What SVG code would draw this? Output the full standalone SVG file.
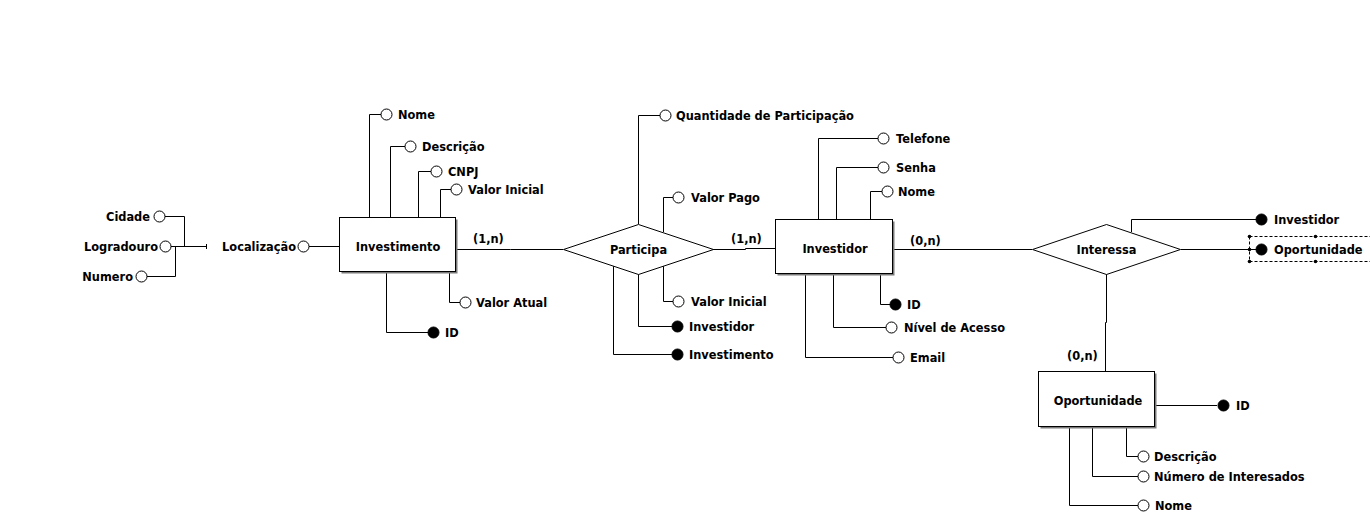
<svg xmlns="http://www.w3.org/2000/svg" width="1370" height="517" viewBox="0 0 1370 517">
<style>
.ln{stroke:#000;stroke-width:1;fill:none}
.att{fill:#fff;stroke:#000;stroke-width:1}
.key{fill:#000;stroke:#000;stroke-width:1}
.ent{fill:#fff;stroke:#000;stroke-width:1}
.sh{fill:#7a7a7a}
.rel{fill:#fff;stroke:#000;stroke-width:1}
.sel{stroke:#000;stroke-width:1;stroke-dasharray:3,2;fill:none}
text{font-family:"DejaVu Sans","Liberation Sans",sans-serif;font-weight:bold;font-size:11.4px;fill:#000}
.c{text-anchor:middle}
.r{text-anchor:end}
</style>
<rect width="1370" height="517" fill="#fff"/>
<g id="connectors">
<!-- Investimento attributes -->
<polyline class="ln" points="369.5,217 369.5,114.5 381,114.5"/>
<polyline class="ln" points="390.5,217 390.5,146.5 405,146.5"/>
<polyline class="ln" points="418.5,217 418.5,171.5 431,171.5"/>
<polyline class="ln" points="440.5,217 440.5,189.5 451,189.5"/>
<polyline class="ln" points="449.5,272 449.5,302.5 460,302.5"/>
<polyline class="ln" points="386.5,272 386.5,332.5 428,332.5"/>
<line class="ln" x1="309" y1="246.5" x2="339" y2="246.5"/>
<!-- Localizacao composite -->
<polyline class="ln" points="164,216.5 184.5,216.5 184.5,246.5"/>
<line class="ln" x1="165" y1="246.5" x2="207" y2="246.5"/>
<polyline class="ln" points="146,276.5 175.5,276.5 175.5,246.5"/>
<line class="ln" x1="206.5" y1="244" x2="206.5" y2="249"/>
<!-- Relationship lines -->
<polyline class="ln" points="456,249.5 510.5,249.5 510.5,249.5 563,249.5"/>
<polyline class="ln" points="713,249.5 745.5,249.5 745.5,248.5 775,248.5"/>
<line class="ln" x1="894" y1="249.5" x2="1032" y2="249.5"/>
<polyline class="ln" points="1106.5,274 1106.5,322.5 1105.5,322.5 1105.5,371"/>
<line class="ln" x1="1181" y1="249.5" x2="1256" y2="249.5"/>
<!-- Participa attributes -->
<polyline class="ln" points="638.5,224 638.5,115.5 660,115.5"/>
<polyline class="ln" points="663.5,232 663.5,197.5 673,197.5"/>
<polyline class="ln" points="663.5,266 663.5,301.5 673,301.5"/>
<polyline class="ln" points="638.5,274 638.5,326.5 672,326.5"/>
<polyline class="ln" points="613.5,266 613.5,354.5 672,354.5"/>
<!-- Investidor attributes -->
<polyline class="ln" points="818.5,219 818.5,138.5 878,138.5"/>
<polyline class="ln" points="836.5,219 836.5,167.5 878,167.5"/>
<polyline class="ln" points="870.5,219 870.5,191.5 882,191.5"/>
<polyline class="ln" points="880.5,274 880.5,304.5 890,304.5"/>
<polyline class="ln" points="833.5,274 833.5,327.5 886,327.5"/>
<polyline class="ln" points="805.5,274 805.5,357.5 893,357.5"/>
<!-- Interessa attributes -->
<polyline class="ln" points="1131.5,232 1131.5,219.5 1256,219.5"/>
<!-- Oportunidade attributes -->
<line class="ln" x1="1156" y1="405.5" x2="1217" y2="405.5"/>
<polyline class="ln" points="1126.5,427 1126.5,456.5 1138,456.5"/>
<polyline class="ln" points="1092.5,427 1092.5,476.5 1138,476.5"/>
<polyline class="ln" points="1069.5,427 1069.5,505.5 1138,505.5"/>
</g>
<g id="investimento">
<rect class="sh" x="341.5" y="219.5" width="116" height="54"/>
<rect class="ent" x="339.5" y="217.5" width="116" height="54"/>
<text class="c" x="398" y="251">Investimento</text>
</g>
<g id="investimento-attrs">
<circle class="att" cx="386.5" cy="114.5" r="5.5"/><text x="398" y="118.5">Nome</text>
<circle class="att" cx="410.5" cy="146.5" r="5.5"/><text x="422" y="150.5">Descrição</text>
<circle class="att" cx="436.5" cy="171.5" r="5.5"/><text x="448" y="175.5">CNPJ</text>
<circle class="att" cx="456.5" cy="189.5" r="5.5"/><text x="468" y="193.5">Valor Inicial</text>
<circle class="att" cx="465.5" cy="302.5" r="5.5"/><text x="476" y="306.5">Valor Atual</text>
<circle class="key" cx="433.5" cy="332.5" r="5.5"/><text x="445" y="336.5">ID</text>
<circle class="att" cx="303.5" cy="246.5" r="5.5"/><text class="r" x="296" y="250.5">Localização</text>
<circle class="att" cx="159.5" cy="216.5" r="5.5"/><text class="r" x="150" y="220.5">Cidade</text>
<circle class="att" cx="165.5" cy="246.5" r="5.5"/><text class="r" x="158" y="250.5">Logradouro</text>
<circle class="att" cx="141.5" cy="276.5" r="5.5"/><text class="r" x="133" y="280.5">Numero</text>
</g>
<g id="participa">
<polygon class="rel" points="563.5,249.5 638.5,224.5 713.5,249.5 638.5,274.5"/>
<text class="c" x="638.5" y="253.5">Participa</text>
<circle class="att" cx="665.5" cy="115.5" r="5.5"/><text x="676" y="119.5">Quantidade de Participação</text>
<circle class="att" cx="678.5" cy="197.5" r="5.5"/><text x="691" y="201.5">Valor Pago</text>
<circle class="att" cx="678.5" cy="301.5" r="5.5"/><text x="691" y="305.5">Valor Inicial</text>
<circle class="key" cx="677.5" cy="326.5" r="5.5"/><text x="689" y="330.5">Investidor</text>
<circle class="key" cx="677.5" cy="354.5" r="5.5"/><text x="689" y="358.5">Investimento</text>
</g>
<g id="investidor">
<rect class="sh" x="777.5" y="221.5" width="117" height="54"/>
<rect class="ent" x="775.5" y="219.5" width="117" height="54"/>
<text class="c" x="835" y="252.5">Investidor</text>
<circle class="att" cx="883.5" cy="138.5" r="5.5"/><text x="896" y="142.5">Telefone</text>
<circle class="att" cx="883.5" cy="167.5" r="5.5"/><text x="896" y="171.5">Senha</text>
<circle class="att" cx="887.5" cy="191.5" r="5.5"/><text x="898" y="195.5">Nome</text>
<circle class="key" cx="895.5" cy="304.5" r="5.5"/><text x="907" y="308.5">ID</text>
<circle class="att" cx="891.5" cy="327.5" r="5.5"/><text x="904" y="331.5">Nível de Acesso</text>
<circle class="att" cx="898.5" cy="357.5" r="5.5"/><text x="910" y="361.5">Email</text>
</g>
<g id="interessa">
<polygon class="rel" points="1032.5,249.5 1106.5,224.5 1180.5,249.5 1106.5,274.5"/>
<text class="c" x="1106.5" y="253.5">Interessa</text>
<circle class="key" cx="1261.5" cy="219.5" r="5.5"/><text x="1274" y="223.5">Investidor</text>
<circle class="key" cx="1261.5" cy="249.5" r="5.5"/><text x="1274" y="253.5">Oportunidade</text>
</g>
<g id="selection">
<line class="sel" x1="1249.5" y1="236.5" x2="1370" y2="236.5"/>
<line class="sel" x1="1249.5" y1="261.5" x2="1370" y2="261.5"/>
<line class="sel" x1="1249.5" y1="236.5" x2="1249.5" y2="261.5"/>
<circle cx="1249.5" cy="236.5" r="1.8"/>
<circle cx="1249.5" cy="249.5" r="1.8"/>
<circle cx="1249.5" cy="261.5" r="1.8"/>
<circle cx="1315.5" cy="236.5" r="1.8"/>
<circle cx="1315.5" cy="261.5" r="1.8"/>
</g>
<g id="oportunidade">
<rect class="sh" x="1040.5" y="373.5" width="116" height="55"/>
<rect class="ent" x="1038.5" y="371.5" width="116" height="55"/>
<text class="c" x="1098" y="404.5">Oportunidade</text>
<circle class="key" cx="1223.5" cy="405.5" r="5.5"/><text x="1236" y="409.5">ID</text>
<circle class="att" cx="1143.5" cy="456.5" r="5.5"/><text x="1154" y="460.5">Descrição</text>
<circle class="att" cx="1143.5" cy="476.5" r="5.5"/><text x="1154" y="480.5">Número de Interesados</text>
<circle class="att" cx="1143.5" cy="505.5" r="5.5"/><text x="1155" y="509.5">Nome</text>
</g>
<g id="labels">
<text x="473" y="242.5">(1,n)</text>
<text x="731" y="242.5">(1,n)</text>
<text x="910" y="244.5">(0,n)</text>
<text x="1067" y="359.5">(0,n)</text>
</g>
</svg>
